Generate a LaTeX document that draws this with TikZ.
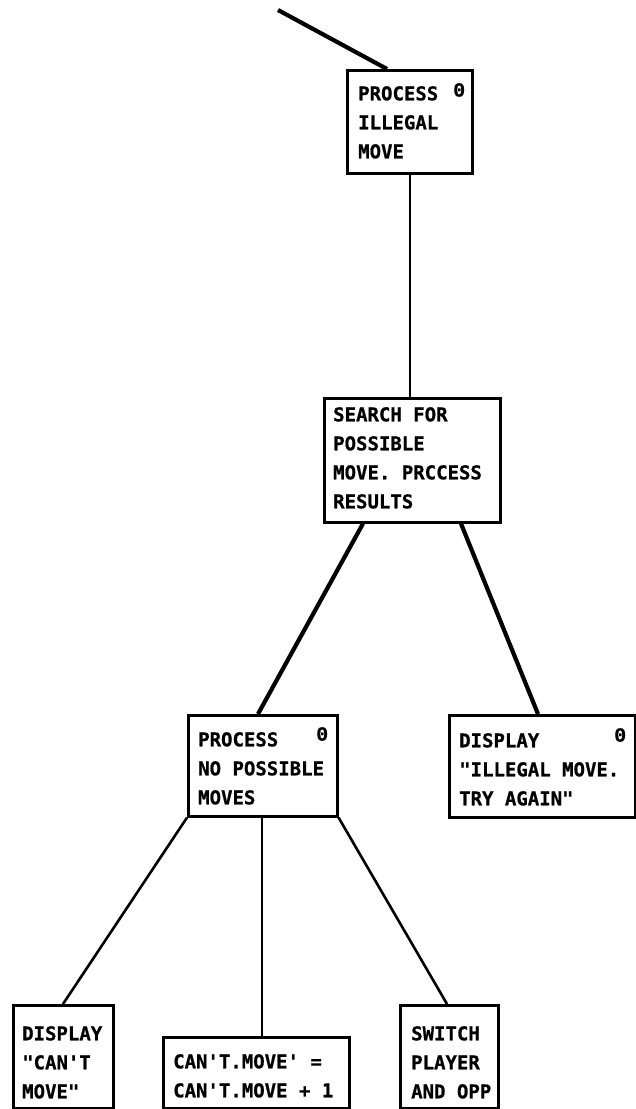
\documentclass[tikz,border=0pt]{standalone}
\usepackage{fontspec}
\newfontfamily\boxfont{DejaVu Sans Mono}[BoldFeatures={FakeBold=0.8}]
\newfontfamily\flagfont{Liberation Mono}[BoldFeatures={FakeBold=0.8}]
\begin{document}
\begin{tikzpicture}[x=1pt,y=-1pt,
  box/.style={draw, line width=2.6pt, rectangle, inner sep=0pt, anchor=north west},
  txt/.style={font=\boxfont\bfseries\fontsize{19}{29}\selectfont, align=left, inner sep=0pt, anchor=north west},
  flag/.style={font=\flagfont\bfseries\fontsize{20}{20}\selectfont, inner sep=0pt, anchor=north west},
  lnthin/.style={line width=2pt},
  lnmid/.style={line width=2.6pt},
  lnthick/.style={line width=4.2pt}]
\useasboundingbox (0,0) rectangle (636,1109);
% boxes
\node[box, minimum width=125pt, minimum height=103pt] (A) at (346,69) {};
\node[box, minimum width=176pt, minimum height=124pt] (B) at (323,397) {};
\node[box, minimum width=149pt, minimum height=101pt] (C) at (187,714) {};
\node[box, minimum width=186pt, minimum height=102pt] (D) at (448,714) {};
\node[box, minimum width=100pt, minimum height=103pt] (E) at (12,1004) {};
\node[box, minimum width=186pt, minimum height=71pt] (F) at (162,1036) {};
\node[box, minimum width=98pt, minimum height=103pt] (G) at (399,1004) {};
% texts
\node[txt] (tA) at (358,86) {PROCESS\\ILLEGAL\\MOVE};
\node[flag] (fA) at (453,83) {0};
\node[txt] (tB) at (333,407) {SEARCH FOR\\POSSIBLE\\MOVE. PRCCESS\\RESULTS};
\node[txt] (tC) at (198,732) {PROCESS\\NO POSSIBLE\\MOVES};
\node[flag] (fC) at (316,727) {0};
\node[txt] (tD) at (459,733) {DISPLAY\\"ILLEGAL MOVE.\\TRY AGAIN"};
\node[flag] (fD) at (614,728) {0};
\node[txt] (tE) at (22,1026) {DISPLAY\\"CAN'T\\MOVE"};
\node[txt] (tF) at (173,1054) {CAN'T.MOVE' =\\CAN'T.MOVE + 1};
\node[txt] (tG) at (411,1026) {SWITCH\\PLAYER\\AND OPP};
% connectors
\coordinate (s) at (278,10);
\draw[lnthick] (s) -- ([xshift=41pt]A.north west);
\draw[lnthin] (A.south) -- (A.south |- B.north);
\draw[lnthick] ([xshift=40pt]B.south west) -- ([xshift=71pt]C.north west);
\draw[lnthick] ([xshift=138pt]B.south west) -- ([xshift=90pt]D.north west);
\draw[lnmid] (C.south west) -- ([xshift=51pt]E.north west);
\draw[lnmid] ([xshift=75pt]C.south west) -- ([xshift=100pt]F.north west);
\draw[lnmid] (C.south east) -- ([xshift=48pt]G.north west);
\end{tikzpicture}
\end{document}
